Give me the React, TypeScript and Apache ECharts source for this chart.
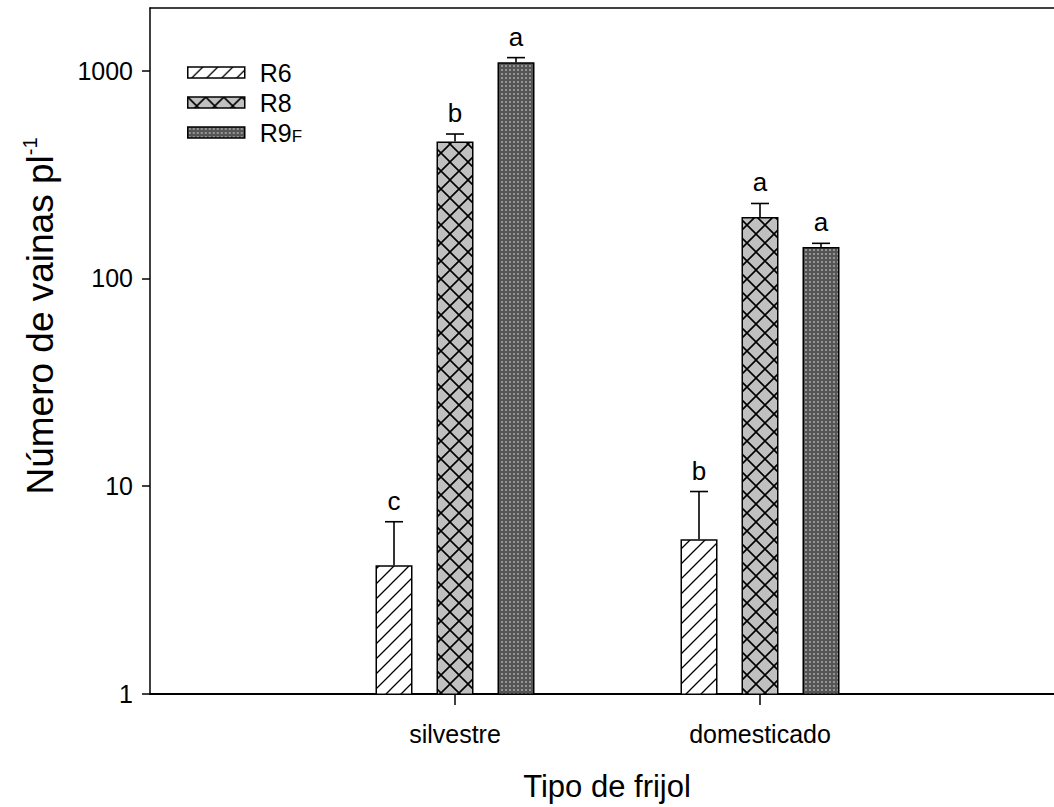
import React, { useEffect, useRef } from "react";
import * as echarts from "echarts";

const categories = ["silvestre", "domesticado"];
const seriesNames = ["R6", "R8", "R9F"];
const r6Mean = [4.2, 5.6];
const r6Err = [2.6, 3.9];
const r6Letters = ["c", "b"];
const r8Mean = [457, 198];
const r8Err = [39, 32];
const r8Letters = ["b", "a"];
const r9Mean = [1096, 142];
const r9Err = [59, 6];
const r9Letters = ["a", "a"];
const yTickValues = [1, 10, 100, 1000];

const FONT = "Liberation Sans, Arial, sans-serif";
const BAR_W = 37;
const GAP_PX = 24;
const STEP = BAR_W + GAP_PX;

function svgTile(w: number, h: number, body: string) {
  const svg = `<svg xmlns="http://www.w3.org/2000/svg" width="${w}" height="${h}">${body}</svg>`;
  return {
    image: "data:image/svg+xml;charset=utf-8," + encodeURIComponent(svg),
    repeat: "repeat",
    imageWidth: w,
    imageHeight: h,
  };
}

const patR6 = svgTile(
  15,
  15,
  `<rect width="15" height="15" fill="#ffffff"/><path d="M-1,16 L16,-1 M-3,3 L3,-3 M12,18 L18,12" stroke="#000" stroke-width="1.3" fill="none"/>`
);
const patR8 = svgTile(
  18,
  18,
  `<rect width="18" height="18" fill="#c0c0c0"/><path d="M-1,-1 L19,19 M19,-1 L-1,19" stroke="#000" stroke-width="1.6" fill="none"/>`
);
const patR9 = svgTile(
  4,
  4,
  `<rect width="4" height="4" fill="#555555"/><rect x="1" y="1" width="2" height="2" fill="#959595"/>`
);

export default function App() {
  const ref = useRef<HTMLDivElement>(null);
  useEffect(() => {
    if (!ref.current) return;
    const chart = echarts.init(ref.current, null, { renderer: "svg" });

    const means = [r6Mean, r8Mean, r9Mean];
    const errs = [r6Err, r8Err, r9Err];
    const letters = [r6Letters, r8Letters, r9Letters];
    const pats = [patR6, patR8, patR9];

    const barSeries = seriesNames.map((name, s) => ({
      name,
      type: "bar",
      xAxisIndex: 2,
      yAxisIndex: 1,
      barWidth: BAR_W,
      barGap: `${(GAP_PX / BAR_W) * 100}%`,
      data: means[s],
      itemStyle: { color: pats[s], borderColor: "#000", borderWidth: 1.5 },
      z: 2,
    }));

    const errSeries = seriesNames.map((name, s) => ({
      type: "custom",
      xAxisIndex: 2,
      yAxisIndex: 1,
      z: 5,
      silent: true,
      data: categories.map((c, i) => [i, means[s][i], means[s][i] + errs[s][i]]),
      renderItem: (params: any, api: any) => {
        const cat = api.value(0);
        const base = api.coord([cat, api.value(1)]);
        const top = api.coord([cat, api.value(2)]);
        const x = base[0] + (s - 1) * STEP;
        const st = { stroke: "#000", lineWidth: 1.6 };
        return {
          type: "group",
          children: [
            { type: "line", shape: { x1: x, y1: base[1], x2: x, y2: top[1] }, style: st },
            { type: "line", shape: { x1: x - 9, y1: top[1], x2: x + 9, y2: top[1] }, style: st },
            {
              type: "text",
              style: {
                text: letters[s][params.dataIndex],
                x,
                y: top[1] - 8,
                align: "center",
                verticalAlign: "bottom",
                font: `26px ${FONT}`,
                fill: "#000",
              },
            },
          ],
        };
      },
    }));

    const option: any = {
      animation: false,
      backgroundColor: "#ffffff",
      textStyle: { fontFamily: FONT },
      legend: {
        orient: "vertical",
        left: 182,
        top: 55,
        itemWidth: 57,
        itemHeight: 11,
        itemGap: 5,
        icon: "rect",
        data: seriesNames,
        itemStyle: { borderColor: "#000", borderWidth: 1.5 },
        formatter: (n: string) => (n === "R9F" ? "{m|R9}{sub|F}" : n),
        textStyle: {
          fontSize: 25,
          fontFamily: FONT,
          color: "#000",
          lineHeight: 25,
          padding: [0, 0, 0, 10],
          rich: {
            m: { fontSize: 25, fontFamily: FONT, color: "#000", lineHeight: 25 },
            sub: { fontSize: 17, fontFamily: FONT, color: "#000", verticalAlign: "bottom", padding: [12, 0, 0, 0] },
          },
        },
      },
      grid: [
        { left: 150, right: 0, top: 8, bottom: 112 },
        { left: 302.5, right: 141.5, top: 8, bottom: 112 },
      ],
      xAxis: [
        {
          gridIndex: 0,
          type: "value",
          min: 0,
          max: 1,
          position: "bottom",
          axisLine: { show: true, lineStyle: { color: "#000", width: 2 } },
          axisTick: { show: false },
          axisLabel: { show: false },
          splitLine: { show: false },
          name: "Tipo de frijol",
          nameLocation: "middle",
          nameGap: 77,
          nameTextStyle: { fontSize: 31, fontFamily: FONT, color: "#000", padding: [0, 0, 0, 10] },
        },
        {
          gridIndex: 0,
          type: "value",
          min: 0,
          max: 1,
          position: "top",
          axisLine: { show: true, lineStyle: { color: "#000", width: 1.5 } },
          axisTick: { show: false },
          axisLabel: { show: false },
          splitLine: { show: false },
        },
        {
          gridIndex: 1,
          type: "category",
          data: categories,
          axisLine: { show: false },
          axisTick: { show: true, alignWithLabel: true, length: 10, lineStyle: { color: "#000", width: 1.5 } },
          axisLabel: { fontSize: 25, fontFamily: FONT, color: "#000", margin: 26 },
          splitLine: { show: false },
        },
      ],
      yAxis: [
        {
          gridIndex: 0,
          type: "log",
          min: 1,
          max: 2000,
          axisLine: { show: true, lineStyle: { color: "#000", width: 1.5 } },
          axisTick: { show: true, length: 8, lineStyle: { color: "#000", width: 1.5 }, customValues: yTickValues },
          axisLabel: {
            fontSize: 25,
            fontFamily: FONT,
            color: "#000",
            margin: 17,
            customValues: yTickValues,
            formatter: (v: number) => String(Math.round(v)),
          },
          splitLine: { show: false },
          minorTick: { show: false },
          name: "{a|Número de vainas pl}{s|-1}",
          nameLocation: "middle",
          nameRotate: 90,
          nameGap: 90,
          nameTextStyle: {
            padding: [0, 0, 0, 70],
            rich: {
              a: { fontSize: 37, fontFamily: FONT, color: "#000", lineHeight: 40 },
              s: { fontSize: 20, fontFamily: FONT, color: "#000", verticalAlign: "top", lineHeight: 40 },
            },
          },
        },
        {
          gridIndex: 1,
          type: "log",
          min: 1,
          max: 2000,
          show: false,
          splitLine: { show: false },
        },
      ],
      series: [...barSeries, ...errSeries],
    };
    chart.setOption(option);
    return () => chart.dispose();
  }, []);
  return (
    <div
      ref={ref}
      style={{ position: "fixed", left: 0, top: 0, width: 1054, height: 807, background: "#fff" }}
    />
  );
}
